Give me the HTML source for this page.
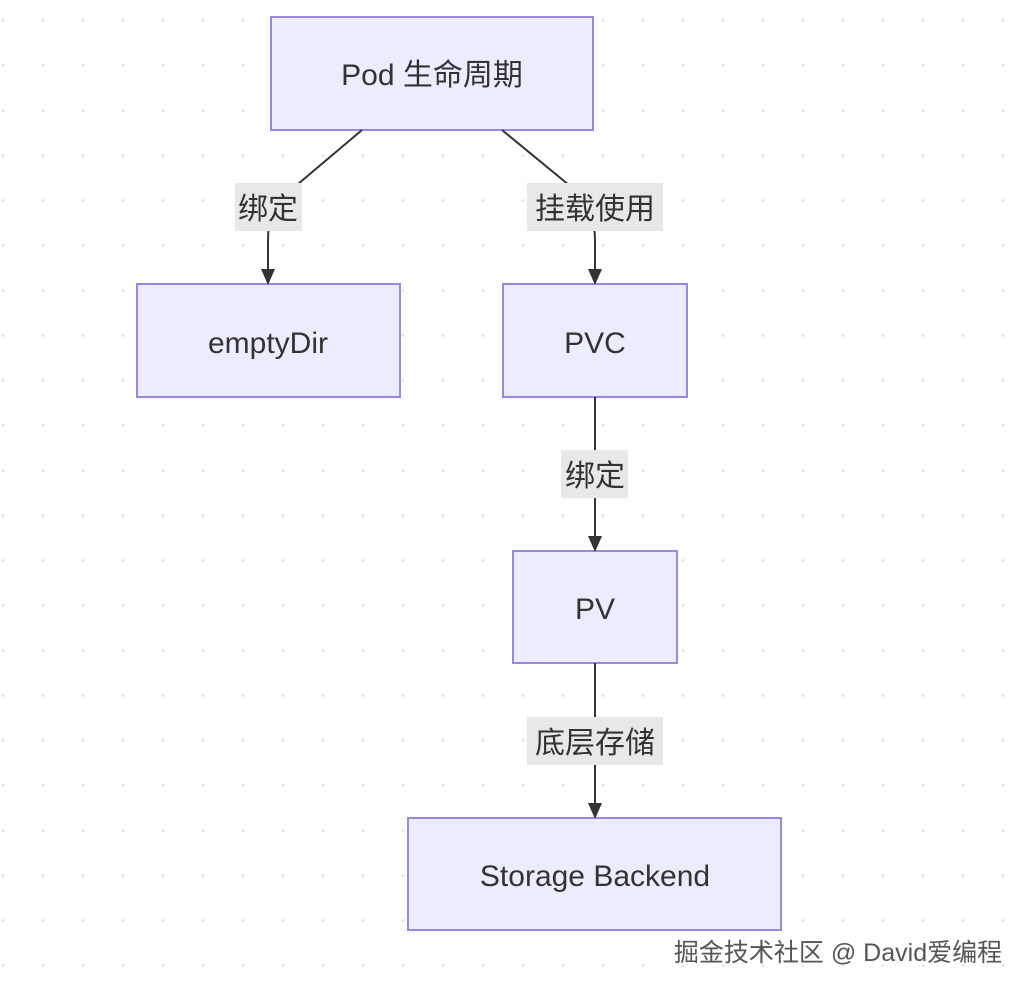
<!DOCTYPE html>
<html><head><meta charset="utf-8"><style>
body{margin:0;width:1029px;height:993px;overflow:hidden;background:#fff;
background-image:radial-gradient(circle,#e6e6e6 1.3px,transparent 1.6px);background-size:40px 45px;background-position:-17px -2px;}
svg{position:absolute;left:0;top:0}
text{font-family:"Liberation Sans","Noto Sans CJK SC",sans-serif;fill:#333;}
</style></head><body>
<svg width="1029" height="993">
<defs><marker id="a" markerWidth="16" markerHeight="16" refX="14" refY="8" orient="auto" markerUnits="userSpaceOnUse"><path d="M0,1 L16,8 L0,15 z" fill="#333"/></marker></defs>
<g fill="#ececff" stroke="#9b87e0" stroke-width="2">
<rect x="271" y="17" width="322" height="113"/>
<rect x="137" y="284" width="263" height="113"/>
<rect x="503" y="284" width="184" height="113"/>
<rect x="513" y="551" width="164" height="112"/>
<rect x="408" y="818" width="373" height="112"/>
</g>
<g fill="none" stroke="#333" stroke-width="2">
<path d="M362,130 L285,195 Q268,210 268,240 L268,283" marker-end="url(#a)"/>
<path d="M502,130 L575,190 Q595,210 595,240 L595,283" marker-end="url(#a)"/>
<path d="M595,397 L595,550" marker-end="url(#a)"/>
<path d="M595,663 L595,817" marker-end="url(#a)"/>
</g>
<g fill="#e8e8e8">
<rect x="235" y="183" width="67" height="48"/>
<rect x="527" y="183" width="136" height="48"/>
<rect x="561" y="450" width="67" height="48"/>
<rect x="527" y="717" width="136" height="48"/>
</g>
<g font-size="30" text-anchor="middle">
<text x="432" y="85">Pod 生命周期</text>
<text x="268" y="353">emptyDir</text>
<text x="595" y="353">PVC</text>
<text x="595" y="619">PV</text>
<text x="595" y="886">Storage Backend</text>
<text x="268" y="219">绑定</text>
<text x="595" y="219">挂载使用</text>
<text x="595" y="486">绑定</text>
<text x="595" y="753">底层存储</text>
</g>
<text x="838" y="961" font-size="25" text-anchor="middle" style="fill:#555">掘金技术社区 @ David爱编程</text>
</svg>
</body></html>
